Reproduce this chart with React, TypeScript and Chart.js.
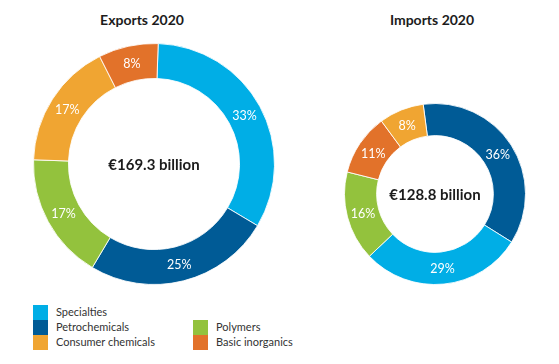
import React, { useEffect, useRef } from "react";
import { Chart, registerables } from "chart.js";

Chart.register(...registerables);

// ---- Data ----
const categories = ["Specialties", "Petrochemicals", "Consumer chemicals", "Polymers", "Basic inorganics"];
const categoryColors = ["#00AEE6", "#005B96", "#F0A532", "#93C23D", "#E2722A"];

const exportsTitle = "Exports 2020";
const exportsLabels = ["Specialties", "Petrochemicals", "Polymers", "Consumer chemicals", "Basic inorganics"];
const exportsValues = [33, 25, 17, 17, 8];
const exportsTotal = "€169.3 billion";

const importsTitle = "Imports 2020";
const importsLabels = ["Petrochemicals", "Specialties", "Polymers", "Basic inorganics", "Consumer chemicals"];
const importsValues = [36, 29, 16, 11, 8];
const importsTotal = "€128.8 billion";

const legendColumn1 = ["Specialties", "Petrochemicals", "Consumer chemicals"];
const legendColumn2 = ["Polymers", "Basic inorganics"];

const colorOf = (name: string) => categoryColors[categories.indexOf(name)];

const FONT = "Lato, 'Open Sans', sans-serif";
const TEXT = "#1c1c1c";

type DonutProps = {
  labels: string[];
  values: number[];
  centerText: string;
  rotation: number;
  cutout: string;
  size: number;
  left: number;
  top: number;
};

function Donut({ labels, values, centerText, rotation, cutout, size, left, top }: DonutProps) {
  const ref = useRef<HTMLCanvasElement | null>(null);
  useEffect(() => {
    if (!ref.current) return;
    const labelPlugin = {
      id: "sliceLabels",
      afterDatasetsDraw(chart: any) {
        const ctx = chart.ctx;
        const meta = chart.getDatasetMeta(0);
        ctx.save();
        ctx.fillStyle = "#ffffff";
        ctx.font = `12.5px ${FONT}`;
        ctx.textAlign = "center";
        ctx.textBaseline = "middle";
        meta.data.forEach((arc: any, i: number) => {
          const p = arc.tooltipPosition();
          ctx.fillText(`${values[i]}%`, p.x, p.y + 1);
        });
        const a0: any = meta.data[0];
        ctx.fillStyle = TEXT;
        ctx.font = `bold 15px ${FONT}`;
        ctx.fillText(centerText, a0.x, a0.y + 1);
        ctx.restore();
      },
    };
    const chart = new Chart(ref.current, {
      type: "doughnut",
      data: {
        labels,
        datasets: [
          {
            data: values,
            backgroundColor: labels.map(colorOf),
            borderColor: "rgba(255,255,255,0.85)",
            borderWidth: 1,
            hoverOffset: 0,
          },
        ],
      },
      options: {
        responsive: false,
        maintainAspectRatio: false,
        animation: false,
        rotation,
        cutout,
        layout: { padding: 0 },
        plugins: {
          legend: { display: false },
          tooltip: { enabled: false },
          title: { display: false },
        },
      },
      plugins: [labelPlugin],
    });
    return () => chart.destroy();
  }, []);
  return (
    <canvas
      ref={ref}
      width={size}
      height={size}
      style={{ position: "absolute", left, top, width: size, height: size }}
    />
  );
}

function Title({ text, cx }: { text: string; cx: number }) {
  return (
    <div
      style={{
        position: "absolute",
        left: cx - 80,
        width: 160,
        top: 11,
        lineHeight: "20px",
        textAlign: "center",
        font: `bold 14px ${FONT}`,
        color: TEXT,
      }}
    >
      {text}
    </div>
  );
}

function LegendItem({ name, left, top }: { name: string; left: number; top: number }) {
  return (
    <div style={{ position: "absolute", left, top, height: 15 }}>
      <div style={{ position: "absolute", left: 0, top: 0, width: 15, height: 15, background: colorOf(name) }} />
      <div
        style={{
          position: "absolute",
          left: 23,
          top: 0,
          lineHeight: "17px",
          whiteSpace: "nowrap",
          font: `11px ${FONT}`,
          color: "#333333",
        }}
      >
        {name}
      </div>
    </div>
  );
}

export default function App() {
  return (
    <div
      style={{
        position: "absolute",
        left: 0,
        top: 0,
        width: 559,
        height: 364,
        background: "#ffffff",
        overflow: "hidden",
        fontFamily: FONT,
      }}
    >
      <Title text={exportsTitle} cx={142} />
      <Title text={importsTitle} cx={432} />
      <Donut
        labels={exportsLabels}
        values={exportsValues}
        centerText={exportsTotal}
        rotation={2}
        cutout="71%"
        size={242}
        left={33}
        top={43}
      />
      <Donut
        labels={importsLabels}
        values={importsValues}
        centerText={importsTotal}
        rotation={-7.5}
        cutout="64.5%"
        size={182}
        left={344}
        top={103}
      />
      {legendColumn1.map((n, i) => (
        <LegendItem key={n} name={n} left={33} top={305 + i * 15} />
      ))}
      {legendColumn2.map((n, i) => (
        <LegendItem key={n} name={n} left={193} top={320 + i * 15} />
      ))}
    </div>
  );
}
